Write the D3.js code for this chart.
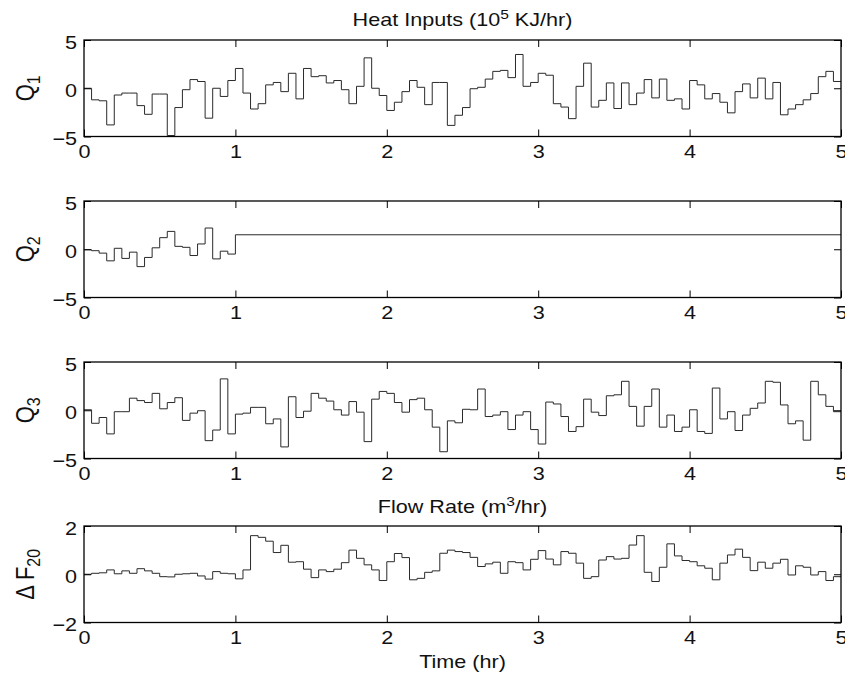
<!DOCTYPE html>
<html>
<head>
<meta charset="utf-8">
<script src="https://cdn.jsdelivr.net/npm/d3@7"></script>
<style>
  body { margin: 0; background: #fff; }
  text { font-family: "Liberation Sans", Arial, Helvetica, sans-serif; fill: #111; }
</style>
</head>
<body>
<div id="chart"></div>
<script>
// step signals, one value per sample period (hr)
const dt = 0.05;
const timeEnd = 5;
const xTicks = [0, 1, 2, 3, 4, 5];

const q1 = [0, -1.2, -1.3, -3.8, -0.7, -0.5, -0.5, -1.8, -2.7, -0.6,
    -0.6, -4.9, -2.0, -0.15, 0.9, 0.7, -3.1, 0, -0.85, 0.8,
    2.05, -0.5, -2.15, -1.6, 0.35, 0.6, -0.35, 1.55, -1.1, 2.05,
    1.2, 1.3, 0.55, 0.8, -0.15, -1.6, 0.2, 3.15, 0, -0.75,
    -2.3, -1.45, -0.35, 0.8, 0.1, -1.7, 0.6, 0.6, -3.85, -2.8,
    -2.0, -0.05, 0.1, 0.95, 1.75, 1.85, 1.1, 3.5, 0.2, 0.6,
    1.55, 1.35, -1.6, -1.95, -3.15, 0.2, 2.6, -1.95, -1.25, 0.55,
    -2.1, 0.55, -1.7, -0.5, 0.9, -1.0, 0.95, -1.25, -1.1, -2.15,
    0.8, 0.35, -1.1, -0.55, -1.45, -2.55, -0.35, 0.45, -1.0, 1.05,
    -1.1, 0.6, -2.75, -2.15, -1.7, -1.2, -0.55, 1.2, 1.75, 0.7];

// last value is held from 1 hr to the end
const q2 = [-0.05, -0.15, -0.4, -1.2, 0.1, -0.95, -0.3, -1.8, -0.85, 0.15,
    1.2, 1.85, 0.3, 0.2, -0.65, 0.55, 2.2, -1.0, -0.2, -0.5,
    1.5];

const q3 = [0.05, -1.35, -0.75, -2.45, -0.15, -0.15, 1.25, 1.0, 0.8, 1.75,
    0.15, 0.8, 1.3, -1.05, -0.3, -0.05, -3.15, -2.05, 3.25, -2.45,
    -0.4, -0.3, 0.3, 0.3, -1.4, -0.9, -3.8, 1.4, -0.75, -0.1,
    1.75, 1.25, 0.95, 0.05, -0.5, 0.9, -0.2, -3.25, 1.15, 1.95,
    1.75, 0.8, -0.2, 1.1, 1.25, 0.05, -1.75, -4.3, -1.1, -1.3,
    0.1, 0.05, 2.2, -0.65, -0.5, -0.15, -2.0, -0.5, -0.15, -2.0,
    -3.5, 0.85, 0.65, -0.65, -2.2, -1.7, 1.15, -0.2, -0.55, 1.5,
    1.6, 3.0, 0.4, -1.65, 0.4, 2.2, -1.75, -0.5, -2.2, -1.75,
    0.05, -2.2, -2.4, 2.3, -0.9, -0.15, -2.1, -0.5, 0.2, 0.75,
    3.0, 2.9, 0.55, -1.4, -1.1, -3.1, 3.0, 1.6, 0.4, -0.15];

const dF20 = [0.0, 0.04, 0.06, 0.18, 0.02, 0.14, 0.04, 0.23, 0.14, 0.04,
    -0.1, -0.11, 0.0, 0.02, 0.04, -0.07, -0.2, 0.11, 0.04, 0.02,
    -0.19, 0.18, 1.6, 1.53, 1.37, 0.9, 1.2, 0.5, 0.52, 0.21,
    -0.14, 0.18, 0.11, 0.21, 0.48, 1.0, 0.66, 0.39, 0.18, -0.26,
    0.52, 0.86, 0.69, -0.23, -0.17, 0.08, 0.14, 0.87, 1.0, 0.94,
    0.9, 0.7, 0.32, 0.43, 0.5, 0.04, 0.52, 0.48, 0.18, 0.62,
    0.98, 0.63, 0.39, 0.94, 0.87, 0.46, -0.17, -0.1, 0.59, 0.73,
    0.63, 0.66, 1.21, 1.6, 0.08, -0.3, 0.29, 1.26, 0.76, 0.57,
    0.52, 0.35, 0.25, -0.23, 0.46, 0.8, 1.04, 0.7, 0.15, 0.5,
    0.25, 0.46, 0.62, -0.03, 0.35, 0.29, -0.03, 0.11, -0.26, -0.1];

const heatTicks = [-5, 0, 5];
const flowTicks = [-2, 0, 2];

const width = 845, height = 677;
const left = 84, right = 841;
const panelHeight = 96.5;
// the text in the figure is drawn a bit wider than its height
const stretch = 1.2;
const fontSize = 18;

const svg = d3.select('#chart').append('svg')
    .attr('width', width)
    .attr('height', height)
;

const x = d3.scaleLinear()
    .domain([0, timeEnd])
    .range([left, right])
;

const panels = [
    { values: q1, top: 40, ticks: heatTicks, label: 'Q', sub: '1' },
    { values: q2, top: 201, ticks: heatTicks, label: 'Q', sub: '2' },
    { values: q3, top: 362, ticks: heatTicks, label: 'Q', sub: '3' },
    { values: dF20, top: 526, ticks: flowTicks, label: '\u0394 F', sub: '20' }
];

function stretchLabels(g) {
    g.attr('font-size', fontSize)
        .attr('font-family', '"Liberation Sans", Arial, sans-serif');
    g.select('.domain').remove();
    g.selectAll('.tick text').attr('transform', `scale(${stretch},1)`);
}

function drawPanel(p) {
    let bottom = p.top + panelHeight;
    let y = d3.scaleLinear()
        .domain([p.ticks[0], p.ticks[p.ticks.length - 1]])
        .range([bottom, p.top])
    ;

    // step points, the last value held to the end of the run
    let pts = p.values.map((v, i) => [i * dt, v]);
    pts.push([timeEnd, p.values[p.values.length - 1]]);

    let line = d3.line()
        .x(d => x(d[0]))
        .y(d => y(d[1]))
        .curve(d3.curveStepAfter)
    ;

    svg.append('path')
        .datum(pts)
        .attr('d', line)
        .attr('fill', 'none')
        .attr('stroke', '#2a2a2a')
        .attr('stroke-width', 1)
    ;

    svg.append('g')
        .attr('transform', `translate(0,${bottom})`)
        .call(d3.axisBottom(x).tickValues(xTicks).tickSizeInner(-7).tickSizeOuter(0)
            .tickPadding(9).tickFormat(d3.format('d')))
        .call(stretchLabels)
    ;
    svg.append('g')
        .attr('transform', `translate(0,${p.top})`)
        .call(d3.axisTop(x).tickValues(xTicks).tickSizeInner(-7).tickSizeOuter(0).tickFormat(''))
        .call(stretchLabels)
    ;
    let yAxis = svg.append('g')
        .attr('transform', `translate(${left},0)`)
        .call(d3.axisLeft(y).tickValues(p.ticks).tickSizeInner(-7).tickSizeOuter(0)
            .tickPadding(5.8).tickFormat(d3.format('d')))
        .call(stretchLabels)
    ;
    yAxis.selectAll('.tick text').attr('dy', '0.46em');
    svg.append('g')
        .attr('transform', `translate(${right},0)`)
        .call(d3.axisRight(y).tickValues(p.ticks).tickSizeInner(-7).tickSizeOuter(0).tickFormat(''))
        .call(stretchLabels)
    ;

    svg.append('rect')
        .attr('x', left)
        .attr('y', p.top)
        .attr('width', right - left)
        .attr('height', panelHeight)
        .attr('fill', 'none')
        .attr('stroke', '#000')
        .attr('stroke-width', 1.3)
    ;

    let ylab = svg.append('text')
        .attr('transform', `translate(34,${p.top + panelHeight / 2}) scale(${stretch},1) rotate(-90)`)
        .attr('text-anchor', 'middle')
        .attr('font-size', 22)
    ;
    ylab.append('tspan').text(p.label);
    ylab.append('tspan')
        .attr('font-size', 16)
        .attr('dy', 5)
        .text(p.sub)
    ;
}

panels.forEach(drawPanel);

function title(xPos, yPos, parts) {
    let t = svg.append('text')
        .attr('transform', `translate(${xPos},${yPos}) scale(${stretch},1)`)
        .attr('text-anchor', 'middle')
        .attr('font-size', fontSize)
    ;
    parts.forEach(part => {
        t.append('tspan')
            .attr('font-size', part.sup ? 13 : fontSize)
            .attr('dy', part.dy || 0)
            .text(part.text);
    });
}

let mid = (left + right) / 2;
title(mid, 26, [{ text: 'Heat Inputs (10' }, { text: '5', sup: true, dy: -7 }, { text: ' KJ/hr)', dy: 7 }]);
title(mid, 513, [{ text: 'Flow Rate (m' }, { text: '3', sup: true, dy: -7 }, { text: '/hr)', dy: 7 }]);
title(mid, 668, [{ text: 'Time (hr)' }]);
</script>
</body>
</html>
